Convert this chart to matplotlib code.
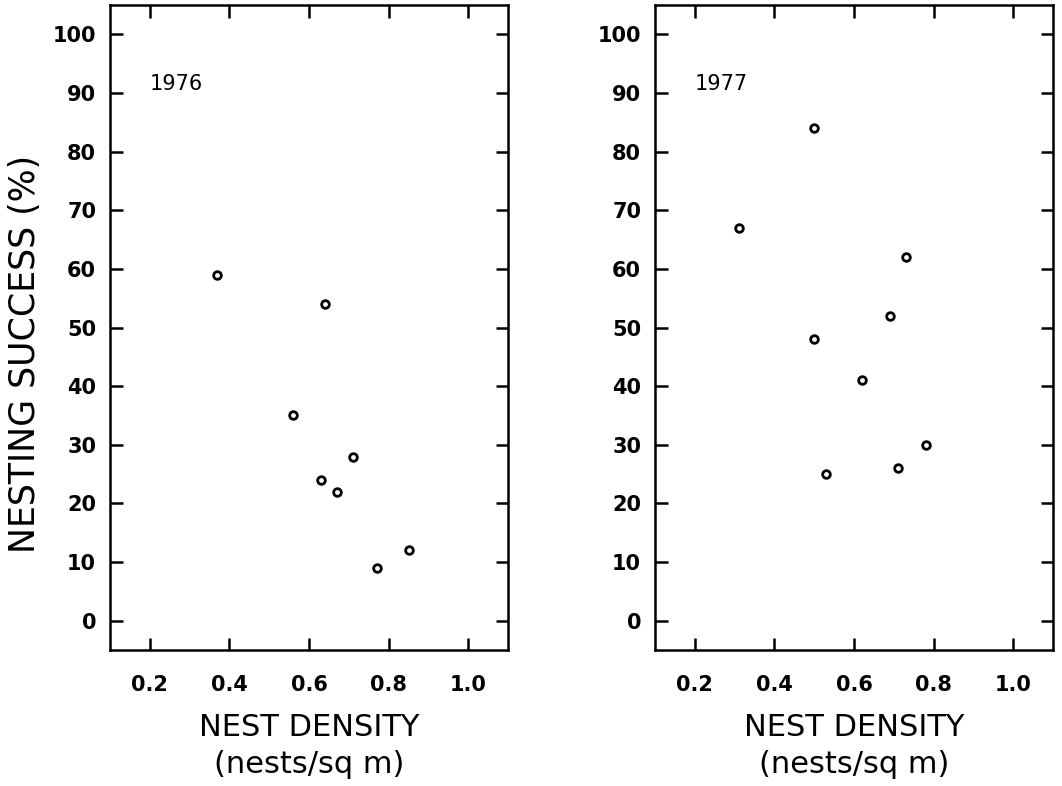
import matplotlib.pyplot as plt

# nest density (nests/sq m) vs nesting success (%)
x_1976 = [0.37, 0.64, 0.56, 0.71, 0.63, 0.67, 0.85, 0.77]
y_1976 = [59, 54, 35, 28, 24, 22, 12, 9]

x_1977 = [0.31, 0.50, 0.73, 0.69, 0.50, 0.62, 0.78, 0.71, 0.53]
y_1977 = [67, 84, 62, 52, 48, 41, 30, 26, 25]

xticks = [0.2, 0.4, 0.6, 0.8, 1.0]
yticks = [0, 10, 20, 30, 40, 50, 60, 70, 80, 90, 100]

fig = plt.figure(figsize=(10.62, 7.86), dpi=100)
ax1 = fig.add_axes([0.1036, 0.173, 0.3748, 0.8206])
ax2 = fig.add_axes([0.6168, 0.173, 0.3748, 0.8206])

for ax, xs, ys, year in [(ax1, x_1976, y_1976, '1976'), (ax2, x_1977, y_1977, '1977')]:
    ax.plot(xs, ys, 'o', ls='none', ms=5.5, mfc='white', mec='black', mew=2)
    ax.set_xlim(0.1, 1.1)
    ax.set_ylim(-5, 105)
    ax.set_xticks(xticks)
    ax.set_xticklabels(['%.1f' % v for v in xticks])
    ax.set_yticks(yticks)
    ax.tick_params(direction='in', top=True, right=True, length=9, width=1.8,
                   labelsize=15)
    ax.tick_params(axis='x', pad=18)
    ax.tick_params(axis='y', pad=10)
    for lab in ax.get_xticklabels() + ax.get_yticklabels():
        lab.set_fontweight('bold')
    for sp in ax.spines.values():
        sp.set_linewidth(1.8)
    ax.text(0.2, 91.5, year, fontsize=15, va='center', ha='left')
    ax.set_xlabel('NEST DENSITY\n(nests/sq m)', fontsize=22, labelpad=13,
                  linespacing=1.35)

ax1.set_ylabel('NESTING SUCCESS (%)', fontsize=25)
ax1.yaxis.set_label_coords(-0.17, 0.459)

fig.savefig('out.png', dpi=100)
